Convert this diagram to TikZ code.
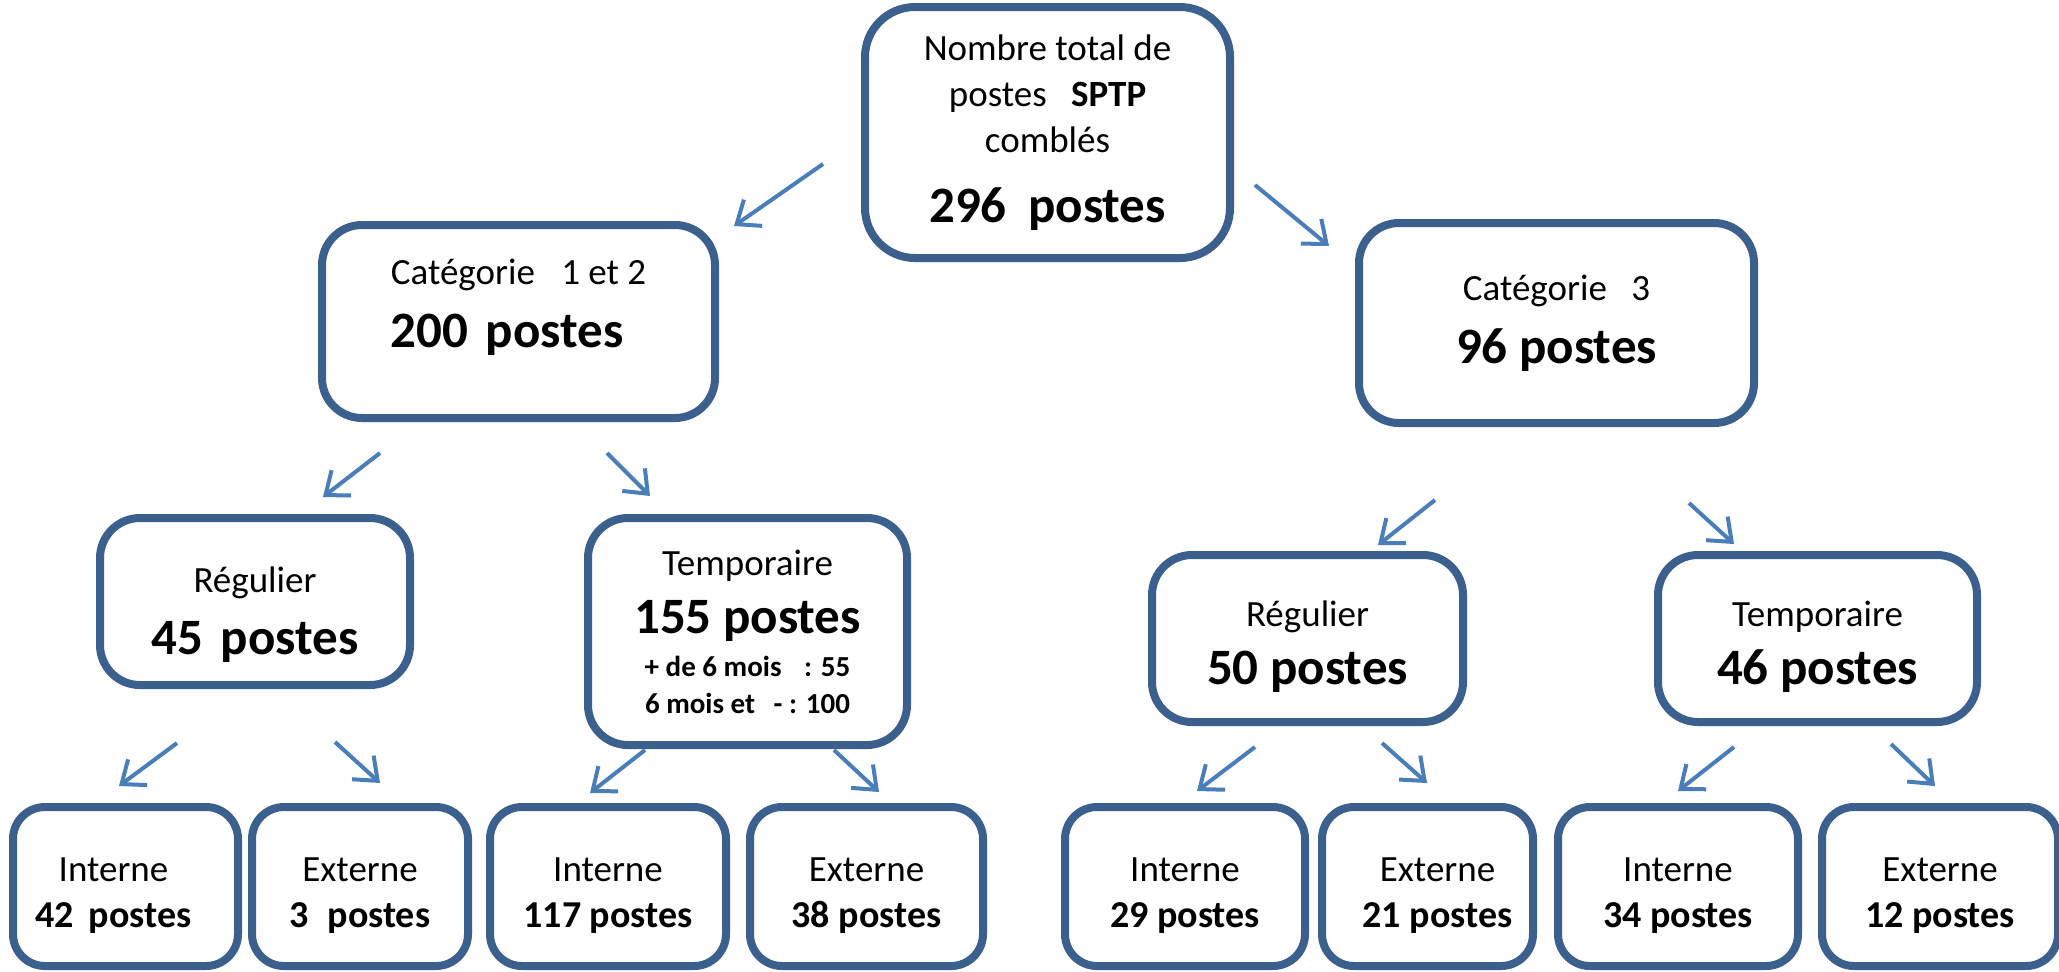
\documentclass[tikz,border=0pt]{standalone}
\usepackage{fontspec}
\setmainfont{Carlito}
\usepackage{xcolor}
\usepackage{tikz}
\usetikzlibrary{arrows.meta}
\definecolor{bordbleu}{RGB}{59,96,141}
\definecolor{flechebleu}{RGB}{74,126,187}
\newcommand{\grand}{\fontsize{25.5}{28}\selectfont\bfseries}
\newcommand{\moyen}{\fontsize{19}{22}\selectfont\bfseries}
\newcommand{\petit}{\fontsize{14.5}{16}\selectfont\bfseries}
\tikzstyle{boite} =[draw=bordbleu, line width=4pt, rounded corners=20pt, inner sep=0pt, align=center, font=\fontsize{18.5}{23}\selectfont]
\tikzstyle{feuille} =[boite, rounded corners=16pt, minimum height=79.5pt]
\tikzstyle{fleche} =[-{Straight Barb[length=10pt, width=16pt, line width=2pt]}, draw=flechebleu, line width=2pt]

\begin{document}
\begin{tikzpicture}[x=0.5pt, y=-0.5pt]
		\useasboundingbox (0,0) rectangle (2059,971);
		% niveau 1
		\node (total)[boite, rounded corners=25pt,
		minimum width=182.5pt, minimum height=125.5pt] at (1047.5,132.5)
		{Nombre total de\\postes\hspace{8pt} \textbf{SPTP}\\comblés\\[12pt]{\grand 296\hspace{5pt} postes}};
		% niveau 2
		\node (cat12)[boite, align=left,
		minimum width=196.5pt, minimum height=96.5pt] at (518.5,321.5)
		{Catégorie\hspace{9pt} 1 et 2\\[8.5pt]{\grand 200\hspace{3pt} postes}\\[-5pt]\mbox{}};
		\node (cat3)[boite,
		minimum width=197.5pt, minimum height=100pt] at (1556.5,323)
		{Catégorie\hspace{8pt} 3\\[8.5pt]{\grand 96 postes}};
		% niveau 3
		\node (regA)[boite,
		minimum width=155pt, minimum height=83.5pt] at (255,601.5)
		{\mbox{}\\[3pt]Régulier\\[8pt]{\grand 45\hspace{3pt} postes}};
		\node (tempA)[boite,
		minimum width=159.5pt, minimum height=113.5pt] at (747.5,631.5)
		{Temporaire\\[6pt]{\grand 155 postes}\\[-1.5pt]{\petit + de 6 mois\hspace{8pt} : 55}\\[-4.5pt]{\petit 6 mois et\hspace{6pt} - : 100}};
		\node (regB)[boite,
		minimum width=155.5pt, minimum height=83.5pt] at (1307.5,638.5)
		{\mbox{}\\[-2pt]Régulier\\[6pt]{\grand 50 postes}};
		\node (tempB)[boite,
		minimum width=159.5pt, minimum height=83.5pt] at (1817.5,638.5)
		{\mbox{}\\[-2pt]Temporaire\\[6pt]{\grand 46 postes}};
		% niveau 4
		\node (intA)[feuille, minimum width=112.5pt] at (125.5,886.5) {\mbox{}\\[-2pt]Interne\rule{12pt}{0pt}\\{\moyen 42\hspace{3pt} postes}\rule{12pt}{0pt}};
		\node (extA)[feuille, minimum width=108pt] at (360,886.5) {\mbox{}\\[-2pt]Externe\\{\moyen 3\hspace{5pt} postes}};
		\node (intB)[feuille, minimum width=118pt] at (608,886.5) {\mbox{}\\[-2pt]Interne\\{\moyen 117 postes}};
		\node (extB)[feuille, minimum width=116.5pt] at (866.5,886.5) {\mbox{}\\[-2pt]Externe\\{\moyen 38 postes}};
		\node (intC)[feuille, minimum width=120pt] at (1185,886.5) {\mbox{}\\[-2pt]Interne\\{\moyen 29 postes}};
		\node (extC)[feuille, minimum width=105.5pt] at (1427.5,886.5) {\mbox{}\\[-2pt]\rule{10pt}{0pt}Externe\\\rule{10pt}{0pt}{\moyen 21 postes}};
		\node (intD)[feuille, minimum width=120pt] at (1678,886.5) {\mbox{}\\[-2pt]Interne\\{\moyen 34 postes}};
		\node (extD)[feuille, minimum width=118pt] at (1940,886.5) {\mbox{}\\[-2pt]Externe\\{\moyen 12 postes}};
		% fleches
		\coordinate (d1) at (823,164);  \coordinate (f1) at (734,226);
		\coordinate (d2) at (1255,185); \coordinate (f2) at (1329,246);
		\coordinate (d3) at (380,453);  \coordinate (f3) at (323,497);
		\coordinate (d4) at (607,453);  \coordinate (f4) at (650,496);
		\coordinate (d5) at (1435,500); \coordinate (f5) at (1378,545);
		\coordinate (d6) at (1689,503); \coordinate (f6) at (1734,544);
		\coordinate (d7) at (177,743);  \coordinate (f7) at (119,786);
		\coordinate (d8) at (335,742);  \coordinate (f8) at (380,783);
		\coordinate (d9) at (645,750);  \coordinate (f9) at (590,793);
		\coordinate (d10) at (834,750); \coordinate (f10) at (879,792);
		\coordinate (d11) at (1255,747); \coordinate (f11) at (1197,791);
		\coordinate (d12) at (1382,743); \coordinate (f12) at (1427,783);
		\coordinate (d13) at (1734,747); \coordinate (f13) at (1678,791);
		\coordinate (d14) at (1891,744); \coordinate (f14) at (1935,786);
		\foreach \i in {1,...,14}
		\draw[fleche] (d\i) -- (f\i);
\end{tikzpicture}
\end{document}
